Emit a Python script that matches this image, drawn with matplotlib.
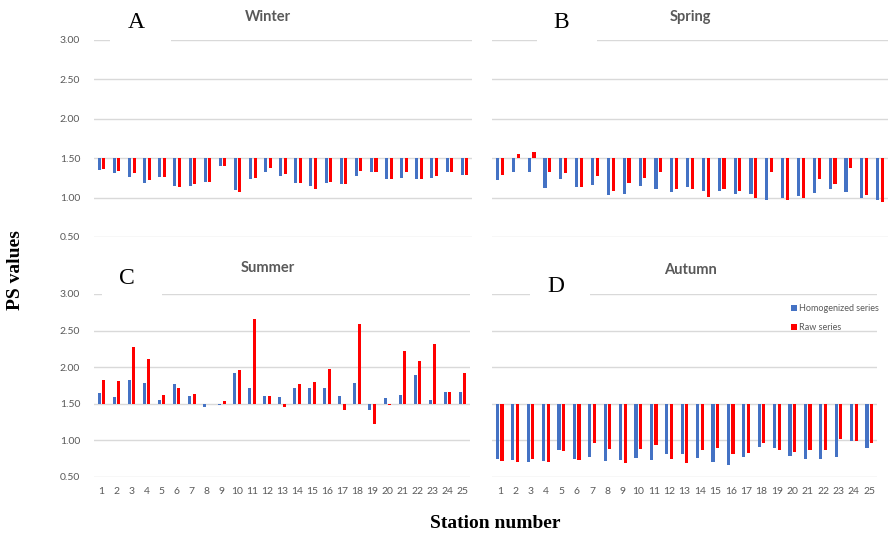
import matplotlib.pyplot as plt
from matplotlib.patches import Rectangle
import numpy as np

BLUE = '#4472C4'
RED = '#FF0000'
GRID = '#D9D9D9'
TXT = '#595959'

stations = list(range(1, 26))

winter_homog = [1.35, 1.31, 1.26, 1.18, 1.26, 1.15, 1.15, 1.20, 1.40, 1.10, 1.23, 1.32, 1.27,
                1.18, 1.15, 1.18, 1.17, 1.27, 1.32, 1.23, 1.25, 1.24, 1.25, 1.32, 1.29]
winter_raw = [1.36, 1.34, 1.31, 1.22, 1.26, 1.14, 1.17, 1.20, 1.40, 1.07, 1.25, 1.37, 1.30,
              1.19, 1.11, 1.20, 1.17, 1.34, 1.33, 1.24, 1.32, 1.24, 1.28, 1.33, 1.29]

spring_homog = [1.22, 1.33, 1.32, 1.12, 1.23, 1.14, 1.16, 1.03, 1.05, 1.15, 1.11, 1.07, 1.13,
                1.08, 1.08, 1.04, 1.04, 0.97, 1.00, 1.02, 1.06, 1.11, 1.07, 1.00, 0.97]
spring_raw = [1.29, 1.55, 1.58, 1.32, 1.31, 1.13, 1.27, 1.08, 1.19, 1.25, 1.33, 1.11, 1.11,
              1.01, 1.11, 1.08, 1.00, 1.33, 0.97, 0.99, 1.23, 1.17, 1.37, 1.03, 0.94]

summer_homog = [1.65, 1.59, 1.82, 1.78, 1.55, 1.77, 1.61, 1.46, 1.48, 1.92, 1.72, 1.60, 1.59,
                1.71, 1.72, 1.72, 1.60, 1.78, 1.42, 1.58, 1.62, 1.89, 1.55, 1.66, 1.66]
summer_raw = [1.83, 1.81, 2.28, 2.11, 1.62, 1.71, 1.64, 1.50, 1.54, 1.96, 2.66, 1.60, 1.46,
              1.77, 1.80, 1.98, 1.42, 2.59, 1.22, 1.48, 2.22, 2.08, 2.32, 1.66, 1.92]

autumn_homog = [0.74, 0.73, 0.70, 0.72, 0.87, 0.74, 0.78, 0.72, 0.73, 0.76, 0.73, 0.81, 0.81,
                0.76, 0.71, 0.66, 0.77, 0.91, 0.90, 0.79, 0.74, 0.74, 0.77, 0.99, 0.90]
autumn_raw = [0.72, 0.70, 0.74, 0.71, 0.86, 0.73, 0.96, 0.88, 0.69, 0.88, 0.94, 0.74, 0.69,
              0.87, 0.90, 0.81, 0.83, 0.96, 0.87, 0.84, 0.87, 0.87, 1.02, 0.99, 0.97]

BASE = 1.5
W, H = 888, 539


def fx(px):
    return px / W


def fy(py):
    return 1 - py / H


fig = plt.figure(figsize=(8.88, 5.39), dpi=100)
fig.patch.set_facecolor('white')

panels = [
    # letter, title, homog, raw, (left, right, top, bottom) px, letter pos, gap, title pos
    ('A', 'Winter', winter_homog, winter_raw, (94, 472, 40, 237), (136, 22), (110, 171), (268, 17)),
    ('B', 'Spring', spring_homog, spring_raw, (492, 888, 40, 237), (561, 22), (537, 597), (690, 17)),
    ('C', 'Summer', summer_homog, summer_raw, (94, 470, 294, 477), (127, 279), (102, 162), (268, 268)),
    ('D', 'Autumn', autumn_homog, autumn_raw, (492, 877, 294, 477), (556, 286), (530, 590), (690, 270)),
]

x = np.array(stations)
axes = []
for i, (letter, title, hom, raw, box, lpos, gap, tpos) in enumerate(panels):
    l, r, t, b = box
    ax = fig.add_axes([fx(l), fy(b), fx(r - l), fy(t) - fy(b)])
    axes.append(ax)
    hom = np.array(hom)
    raw = np.array(raw)
    ax.bar(x - 0.15, hom - BASE, bottom=BASE, width=0.2, color=BLUE, label='Homogenized series', zorder=3)
    ax.bar(x + 0.15, raw - BASE, bottom=BASE, width=0.2, color=RED, label='Raw series', zorder=3)
    ax.set_xlim(0.5, 25.5)
    ax.set_ylim(0.5, 3.0)
    ax.set_yticks([0.5, 1.0, 1.5, 2.0, 2.5, 3.0])
    ax.yaxis.grid(True, color=GRID, lw=1.0, zorder=0)
    ax.set_axisbelow(True)
    for s in ax.spines.values():
        s.set_visible(False)
    ax.tick_params(length=0, labelsize=7.5, labelcolor=TXT, pad=10)
    ax.set_yticklabels(['%.2f' % v for v in ax.get_yticks()], family='Lato')
    if i % 2 == 1:
        ax.set_yticklabels([])
    if i < 2:
        ax.set_xticks([])
    else:
        ax.set_xticks(stations)
        ax.set_xticklabels([str(s) for s in stations], family='Lato')
        ax.tick_params(axis='x', pad=7)
    # white box behind the panel letter cutting the top gridline
    fig.patches.append(Rectangle((fx(gap[0]), fy(t + 5)), fx(gap[1] - gap[0]), fy(t - 5) - fy(t + 5),
                                 transform=fig.transFigure, facecolor='white', edgecolor='none', zorder=1))
    fig.text(fx(lpos[0]), fy(lpos[1]), letter, family='Liberation Serif', fontsize=17,
             ha='center', va='center', zorder=4)
    fig.text(fx(tpos[0]), fy(tpos[1]), title, family='Lato', fontweight='bold', fontsize=10.5,
             color=TXT, ha='center', va='center')

axes[3].legend(loc='upper left', bbox_to_anchor=(fx(783), fy(296)), bbox_transform=fig.transFigure,
               frameon=False, prop={'family': 'Lato', 'size': 6.5}, labelcolor=TXT,
               handlelength=0.6, handleheight=0.6, handletextpad=0.3, labelspacing=1.1)

fig.text(fx(16), fy(270), 'PS values', family='Liberation Serif', fontweight='bold', fontsize=14,
         rotation=90, ha='center', va='center')
fig.text(fx(495), fy(524), 'Station number', family='Liberation Serif', fontweight='bold', fontsize=14,
         ha='center', va='center')

fig.savefig('out.png', dpi=100)
